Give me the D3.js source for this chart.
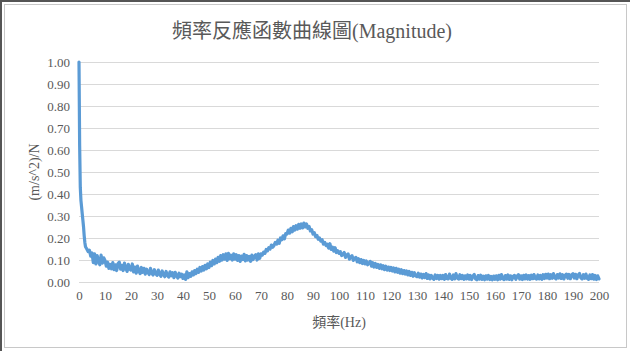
<!DOCTYPE html>
<html>
<head>
<meta charset="utf-8">
<script src="https://cdn.jsdelivr.net/npm/d3@7"></script>
<style>
  body { margin: 0; background: #fff; }
  svg { display: block; }
</style>
</head>
<body>
<div id="chart"></div>
<script>
;(function () {

    var width = 630
        , height = 351
        , margin = { top: 62, right: 31, bottom: 69, left: 79 }
        , serif = "'Liberation Serif', 'Noto Sans CJK TC', 'Times New Roman', serif"
        , textColor = '#595959';

    var title = '頻率反應函數曲線圖(Magnitude)'
        , xLabel = '頻率(Hz)'
        , yLabel = '(m/s^2)/N';

    var xTicks = [0, 10, 20, 30, 40, 50, 60, 70, 80, 90, 100, 110, 120, 130, 140, 150, 160, 170, 180, 190, 200];
    var yTicks = [0, 0.1, 0.2, 0.3, 0.4, 0.5, 0.6, 0.7, 0.8, 0.9, 1.0];

    // low end read point by point (Hz, magnitude)
    var lowFreq = [0, 0.25, 0.5, 0.75, 1, 1.25, 1.5, 1.75, 2, 2.25, 2.5];
    var lowMag = [1.00, 0.62, 0.43, 0.37, 0.34, 0.31, 0.28, 0.25, 0.21, 0.18, 0.16];

    // from 3 Hz on, one reading every 0.5 Hz
    var stepStart = 3
        , step = 0.5;
    var mag3to10 = [0.150, 0.138, 0.145, 0.118, 0.132, 0.088, 0.128, 0.082, 0.120, 0.095, 0.078, 0.122, 0.086, 0.110];
    var mag10 = [0.098, 0.072, 0.090, 0.062, 0.080, 0.060, 0.088, 0.056, 0.078, 0.052, 0.084, 0.090, 0.058, 0.076, 0.052, 0.086, 0.064, 0.048, 0.080, 0.058];
    var mag20 = [0.054, 0.082, 0.046, 0.068, 0.040, 0.072, 0.052, 0.038, 0.066, 0.044, 0.062, 0.036, 0.058, 0.044, 0.034, 0.062, 0.040, 0.032, 0.056, 0.038];
    var mag30 = [0.030, 0.054, 0.036, 0.026, 0.050, 0.034, 0.024, 0.048, 0.030, 0.022, 0.046, 0.028, 0.042, 0.020, 0.044, 0.028, 0.018, 0.040, 0.024, 0.036];
    var mag40 = [0.016, 0.032, 0.012, 0.046, 0.020, 0.038, 0.026, 0.046, 0.032, 0.052, 0.038, 0.058, 0.044, 0.066, 0.050, 0.070, 0.054, 0.076, 0.060, 0.082];
    var mag50 = [0.066, 0.090, 0.074, 0.098, 0.082, 0.104, 0.088, 0.112, 0.094, 0.120, 0.100, 0.124, 0.104, 0.128, 0.098, 0.130, 0.106, 0.122, 0.100, 0.128];
    var mag60 = [0.104, 0.124, 0.098, 0.120, 0.094, 0.118, 0.102, 0.126, 0.096, 0.120, 0.100, 0.116, 0.094, 0.122, 0.102, 0.118, 0.124, 0.100, 0.128, 0.108];
    var mag70 = [0.128, 0.122, 0.136, 0.130, 0.148, 0.142, 0.156, 0.150, 0.168, 0.158, 0.166, 0.180, 0.172, 0.190, 0.176, 0.200, 0.192, 0.210, 0.196, 0.220];
    var mag80 = [0.218, 0.236, 0.222, 0.244, 0.228, 0.252, 0.236, 0.256, 0.240, 0.262, 0.244, 0.264, 0.246, 0.268, 0.250, 0.264, 0.244, 0.252, 0.232, 0.238];
    var mag90 = [0.218, 0.224, 0.206, 0.212, 0.194, 0.200, 0.186, 0.192, 0.172, 0.180, 0.166, 0.172, 0.154, 0.174, 0.148, 0.158, 0.140, 0.156, 0.134, 0.142];
    var mag100 = [0.130, 0.138, 0.120, 0.126, 0.134, 0.112, 0.122, 0.128, 0.104, 0.114, 0.120, 0.098, 0.108, 0.112, 0.092, 0.106, 0.088, 0.102, 0.084, 0.098];
    var mag110 = [0.082, 0.096, 0.078, 0.086, 0.094, 0.072, 0.088, 0.068, 0.084, 0.066, 0.080, 0.062, 0.078, 0.060, 0.074, 0.056, 0.072, 0.054, 0.068, 0.052];
    var mag120 = [0.066, 0.050, 0.064, 0.046, 0.062, 0.044, 0.058, 0.040, 0.056, 0.038, 0.052, 0.036, 0.050, 0.032, 0.048, 0.030, 0.044, 0.026, 0.042, 0.028];
    var mag130 = [0.024, 0.040, 0.022, 0.036, 0.018, 0.034, 0.020, 0.038, 0.016, 0.032, 0.014, 0.030, 0.018, 0.012, 0.032, 0.016, 0.030, 0.013, 0.030, 0.015];
    var mag140 = [0.030, 0.012, 0.034, 0.016, 0.014, 0.036, 0.018, 0.012, 0.032, 0.014, 0.038, 0.018, 0.013, 0.033, 0.015, 0.030, 0.012, 0.028, 0.014, 0.032];
    var mag150 = [0.013, 0.030, 0.011, 0.027, 0.034, 0.014, 0.010, 0.029, 0.013, 0.031, 0.012, 0.026, 0.010, 0.028, 0.013, 0.030, 0.011, 0.025, 0.010, 0.027];
    var mag160 = [0.012, 0.028, 0.010, 0.030, 0.013, 0.034, 0.015, 0.011, 0.029, 0.013, 0.032, 0.012, 0.028, 0.010, 0.026, 0.030, 0.012, 0.027, 0.033, 0.013];
    var mag170 = [0.028, 0.011, 0.030, 0.014, 0.032, 0.013, 0.029, 0.012, 0.031, 0.015, 0.034, 0.016, 0.013, 0.032, 0.014, 0.030, 0.012, 0.033, 0.016, 0.035];
    var mag180 = [0.018, 0.036, 0.015, 0.033, 0.017, 0.038, 0.019, 0.014, 0.034, 0.018, 0.037, 0.016, 0.033, 0.014, 0.031, 0.036, 0.017, 0.034, 0.015, 0.032];
    var mag190 = [0.038, 0.018, 0.035, 0.015, 0.032, 0.039, 0.019, 0.014, 0.033, 0.017, 0.036, 0.016, 0.012, 0.032, 0.015, 0.034, 0.013, 0.030, 0.011, 0.028];
    var mag200 = [0.014];

    function buildSeries() {
        var data = [];
        for (var i = 0; i < lowFreq.length; i++) {
            data.push({ f: lowFreq[i], v: lowMag[i] });
        }
        var stepped = [].concat(mag3to10, mag10, mag20, mag30, mag40, mag50, mag60, mag70, mag80,
            mag90, mag100, mag110, mag120, mag130, mag140, mag150, mag160, mag170, mag180, mag190, mag200);
        for (var j = 0; j < stepped.length; j++) {
            data.push({ f: stepStart + j * step, v: stepped[j] });
        }
        return data;
    }

    function styleText(sel, size) {
        sel.style('font-family', serif)
            .style('font-size', size + 'px')
            .style('fill', textColor);
    }

    function initialize() {
        var svg = d3.select('#chart').append('svg')
            .attr('width', width)
            .attr('height', height);

        // chart frame
        svg.append('rect')
            .attr('x', 0).attr('y', 0)
            .attr('width', width).attr('height', height)
            .attr('fill', '#fff');
        svg.append('rect')
            .attr('x', 4.5).attr('y', 4.5)
            .attr('width', width - 8).attr('height', height - 8)
            .attr('fill', 'none')
            .attr('stroke', '#c8c8c8');
        svg.append('path')
            .attr('d', 'M1,' + height + 'V1H' + width)
            .attr('fill', 'none')
            .attr('stroke', '#555')
            .attr('stroke-width', 2);

        var x = d3.scaleLinear()
            .domain([0, 200])
            .range([margin.left, width - margin.right]);

        var y = d3.scaleLinear()
            .domain([0, 1])
            .range([height - margin.bottom, margin.top]);

        // gridlines
        svg.append('g')
            .selectAll('line')
            .data(yTicks)
            .enter().append('line')
            .attr('x1', x(0))
            .attr('x2', x(200))
            .attr('y1', function (d) { return Math.round(y(d)) + 0.5; })
            .attr('y2', function (d) { return Math.round(y(d)) + 0.5; })
            .attr('stroke', '#d9d9d9');

        var yAxis = d3.axisLeft(y)
            .tickValues(yTicks)
            .tickFormat(d3.format('.2f'))
            .tickSize(0)
            .tickPadding(9);
        var gy = svg.append('g')
            .attr('transform', 'translate(' + margin.left + ',0)')
            .call(yAxis);
        gy.select('.domain').remove();
        styleText(gy.selectAll('text'), 13);

        var xAxis = d3.axisBottom(x)
            .tickValues(xTicks)
            .tickSize(0)
            .tickPadding(9);
        var gx = svg.append('g')
            .attr('transform', 'translate(0,' + (height - margin.bottom) + ')')
            .call(xAxis);
        gx.select('.domain').remove();
        styleText(gx.selectAll('text'), 13);

        var line = d3.line()
            .x(function (d) { return x(d.f); })
            .y(function (d) { return y(d.v); });

        svg.append('path')
            .datum(buildSeries())
            .attr('fill', 'none')
            .attr('stroke', '#5b9bd5')
            .attr('stroke-width', 3.2)
            .attr('stroke-linejoin', 'round')
            .attr('stroke-linecap', 'round')
            .attr('d', line);

        // title
        var t = svg.append('text')
            .attr('x', 312)
            .attr('y', 38)
            .attr('text-anchor', 'middle')
            .text(title);
        styleText(t, 20);

        // x label
        var xl = svg.append('text')
            .attr('x', 339)
            .attr('y', 327)
            .attr('text-anchor', 'middle')
            .text(xLabel);
        styleText(xl, 14);

        // y label
        var yl = svg.append('text')
            .attr('transform', 'translate(39,' + 172 + ') rotate(-90)')
            .attr('text-anchor', 'middle')
            .text(yLabel);
        styleText(yl, 14);
    }

    initialize();

}());
</script>
</body>
</html>
